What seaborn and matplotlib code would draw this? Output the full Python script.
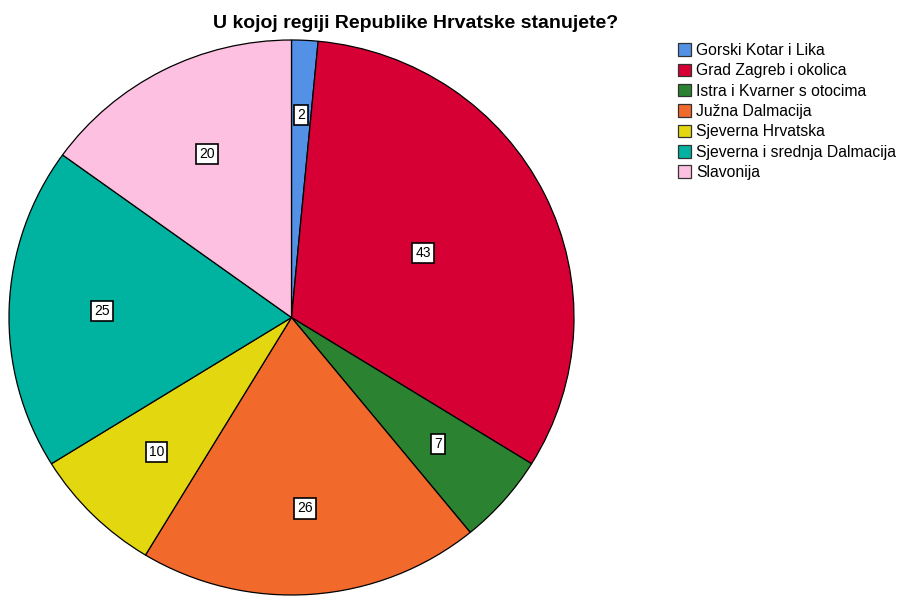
import numpy as np
import matplotlib
matplotlib.use("Agg")
import matplotlib.pyplot as plt
from matplotlib.patches import Patch
import seaborn as sns

# data
regions = ["Gorski Kotar i Lika", "Grad Zagreb i okolica", "Istra i Kvarner s otocima",
           "Južna Dalmacija", "Sjeverna Hrvatska", "Sjeverna i srednja Dalmacija", "Slavonija"]
counts = [2, 43, 7, 26, 10, 25, 20]
colors = ["#5391e6", "#d60034", "#2b8230", "#f2692c", "#e3d810", "#00b2a0", "#fdc0e0"]

# how far out each count label sits (fraction of radius)
label_r = [0.73, 0.52, 0.69, 0.69, 0.68, 0.67, 0.66]

sns.set_style("white")
plt.rcParams["font.family"] = ["Liberation Sans", "DejaVu Sans"]
plt.rcParams["text.color"] = "black"

fig = plt.figure(figsize=(8.99, 5.96), dpi=100)
ax = fig.add_axes([9 / 899, 1 / 596, 565 / 899, 555 / 596])

wedges, _ = ax.pie(counts, colors=colors, startangle=90, counterclock=False,
                   wedgeprops=dict(edgecolor="black", linewidth=0.9))
ax.set_aspect("auto")
ax.set_xlim(-1, 1)
ax.set_ylim(-1, 1)

for w, n, r in zip(wedges, counts, label_r):
    mid = np.deg2rad((w.theta1 + w.theta2) / 2)
    ax.text(r * np.cos(mid), r * np.sin(mid), str(n), ha="center", va="center", fontsize=10,
            color="black",
            bbox=dict(boxstyle="square,pad=0.22", facecolor="white", edgecolor="black", linewidth=1.2))

fig.text(416 / 899, 1 - 23 / 596, "U kojoj regiji Republike Hrvatske stanujete?",
         ha="center", va="center", fontsize=14, fontweight="bold", color="black")

handles = [Patch(facecolor=c, edgecolor="#333333", linewidth=0.9) for c in colors]
fig.legend(handles, regions, loc="upper left", bbox_to_anchor=(678 / 899, 1 - 43 / 596),
           frameon=False, fontsize=11.3, handlelength=0.85, handleheight=0.85,
           handletextpad=0.3, labelspacing=0.34, borderaxespad=0, borderpad=0)

fig.savefig("out.png", dpi=100)
